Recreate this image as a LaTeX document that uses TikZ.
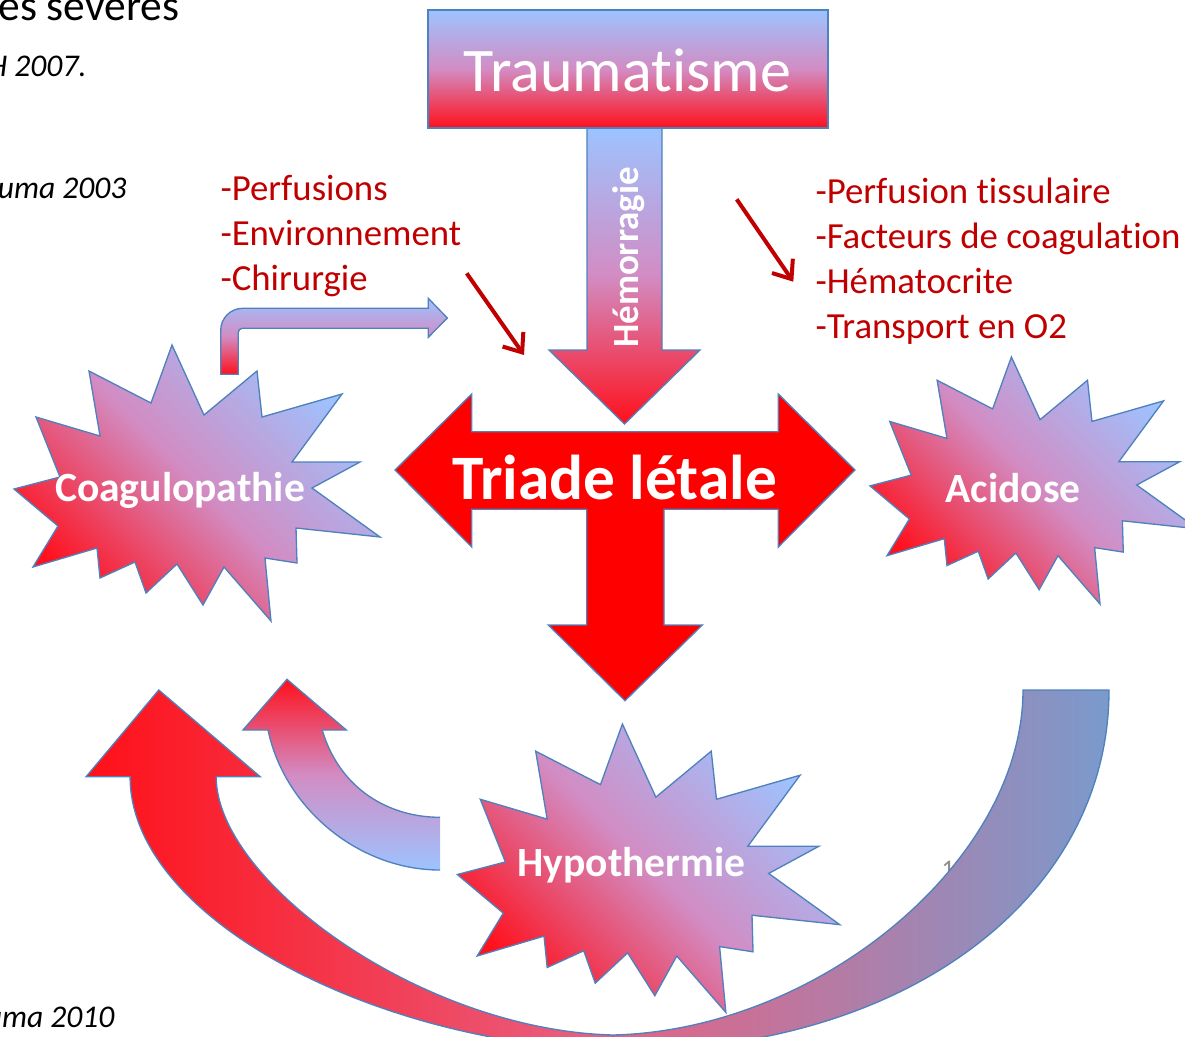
\documentclass[tikz,border=0pt]{standalone}
\usepackage{fontspec}
\setmainfont{Carlito}[Ligatures={NoCommon,NoRequired,NoContextual}]
\usetikzlibrary{arrows.meta}

\definecolor{shRed}{RGB}{255,16,28}
\definecolor{shMid}{RGB}{210,140,195}
\definecolor{shBlue}{RGB}{157,195,255}
\definecolor{edgeBlue}{RGB}{79,129,189}
\definecolor{listRed}{RGB}{192,0,0}
\definecolor{triRed}{RGB}{255,0,0}
\definecolor{arcRed}{RGB}{255,16,24}
\definecolor{arcPink}{RGB}{232,96,130}
\definecolor{arcBlue}{RGB}{122,154,204}
\definecolor{pageGrey}{RGB}{140,140,140}

% explosion outline, local px units from its top left corner
\newcommand{\explosionpath}{(158,0) -- (190,70) -- (243,26) -- (248,72) -- (328,49) -- (278,117) -- (346,117) -- (298,143) -- (366,192) -- (282,183) -- (283,218) -- (251,213) -- (257,276) -- (210,222) -- (189,260) -- (163,219) -- (132,248) -- (121,217) -- (86,233) -- (83,203) -- (19,222) -- (44,181) -- (0,144) -- (46,132) -- (22,72) -- (86,91) -- (75,26) -- (137,58) -- cycle}

\tikzset{every picture/.style={line width=0.75pt}}
\tikzset{
	edge/.style={draw=edgeBlue, line width=1pt, line join=miter},
	vgrad/.style={top color=shBlue, bottom color=shRed, middle color=shMid},
	star fill/.style={edge, top color=shBlue, bottom color=shRed, middle color=shMid, shading angle=-45},
	decr arrow/.style={draw=listRed, line width=3pt, -{Straight Barb[length=12pt, width=19pt]}},
	list text/.style={text=listRed, font=\fontsize{27.6}{33}\selectfont, anchor=base west, inner sep=0pt},
	ref text/.style={font=\fontsize{23.7}{28}\selectfont\itshape, anchor=base east, inner sep=0pt},
	star label/.style={text=white, font=\fontsize{31.2}{37}\selectfont\bfseries, anchor=base, inner sep=0pt},
	big label/.style={text=white, font=\fontsize{46.5}{56}\selectfont, anchor=base, inner sep=0pt}}

\begin{document}
\begin{tikzpicture}[x=0.75pt,y=0.75pt,yscale=-1,xscale=1]
	\useasboundingbox (0,0) rectangle (1185,1036);
	\clip (0,0) rectangle (1185,1036);

	% Text Node
	\draw (-2,20.5) node (titre) [anchor=base west, inner sep=0pt, font=\fontsize{32.6}{38}\selectfont] {es sévères};
	% Text Node
	\draw (87,76) node (ref07) [ref text] {H 2007.};
	% Text Node
	\draw (127,198) node (ref03) [ref text] {uma 2003};
	% Text Node
	\draw (115,1027) node (ref10) [ref text] {uma 2010};
	% Text Node
	\draw (941,877) node (pnum) [anchor=base west, inner sep=0pt, text=pageGrey, font=\fontsize{19}{23}\selectfont] {1};

	%Shape: Curved Up Arrow [id:bigloop]
	\draw [edge, left color=arcRed, right color=arcBlue, middle color=arcPink] (158.8,690) -- (260.2,776.7) -- (216.2,776.7) .. controls (216,880) and (420,1030) .. (613,1035) -- (613,1050) .. controls (380,1045) and (130,920) .. (130.1,776.7) -- (86.1,776.7) -- cycle (1023,690) -- (1109,690) .. controls (1109,900) and (900,1055) .. (613,1050) -- (613,1035) .. controls (820,1030) and (1023,860) .. (1023,690) -- cycle ;

	%Shape: Curved Up Arrow [id:smallloop]
	\shade [top color=shRed, bottom color=shBlue, middle color=shMid] (287,679.3) -- (346.3,730) -- (322.2,730) .. controls (340,790) and (390,817.3) .. (440,817.3) -- (440,870) .. controls (360,870) and (285,810) .. (268,730) -- (243,730) -- cycle ;
	\draw [edge] (440,817.3) .. controls (390,817.3) and (340,790) .. (322.2,730) -- (346.3,730) -- (287,679.3) -- (243,730) -- (268,730) .. controls (285,810) and (360,870) .. (440,870) ;

	%Shape: Bent Arrow [id:bent]
	\draw [edge, vgrad] (220.7,374.3) -- (220.7,330.3) arc[start angle=180, end angle=270, radius=22] -- (428.3,308.3) -- (428.3,298.3) -- (447.3,318) -- (428.3,337.3) -- (428.3,328.3) -- (242.3,328.3) arc[start angle=270, end angle=180, radius=4] -- (238.3,374.3) -- cycle ;

	%Shape: Down Arrow [id:hemo]
	\draw [edge, vgrad] (587,128) -- (662,128) -- (662,350) -- (700,350) -- (624.5,424) -- (549,350) -- (587,350) -- cycle ;
	%Shape: Rectangle [id:trauma]
	\draw [edge, vgrad] (428,10) -- (828,10) -- (828,128) -- (428,128) -- cycle ;

	%Shape: Left-Right-Down Arrow [id:triade]
	\draw [edge, fill=triRed] (395,470) -- (471.7,394) -- (471.7,431.7) -- (778.3,431.7) -- (778.3,394) -- (855,470) -- (778.3,547) -- (778.3,509.3) -- (664,509.3) -- (664,625) -- (702.3,625) -- (625,700.7) -- (548.3,625) -- (586.7,625) -- (586.7,509.3) -- (471.7,509.3) -- (471.7,547) -- cycle ;

	%Shape: Explosion [id:coag]
	\draw [star fill, shift={(14,345)}] \explosionpath ;
	%Shape: Explosion [id:acid]
	\draw [star fill, shift={(870,357)}, scale=0.895] \explosionpath ;
	%Shape: Explosion [id:hypo]
	\draw [star fill, shift={(457.3,724)}, scale=1.045] \explosionpath ;

	%Straight Lines [id:left]
	\coordinate (leftFrom) at (466.7,273.3);
	\coordinate (leftTo) at (524,355);
	\draw [decr arrow] (leftFrom) -- (leftTo) ;
	%Straight Lines [id:right]
	\coordinate (rightFrom) at (736.7,199.3);
	\coordinate (rightTo) at (793.3,281.7);
	\draw [decr arrow] (rightFrom) -- (rightTo) ;

	% Text Node
	\draw (627.5,91) node (trauma) [big label] {Traumatisme};
	% Text Node
	\draw (638,257.5) node (hemo) [rotate=90, anchor=base, inner sep=0pt, text=white, font=\fontsize{27.7}{33}\selectfont\bfseries] {Hémorragie};
	% Text Node
	\draw (614.5,499) node (triade) [big label, font=\fontsize{47.5}{57}\selectfont\bfseries] {Triade létale};
	% Text Node
	\draw (180,501.7) node (coag) [star label] {Coagulopathie};
	% Text Node
	\draw (1013.3,502.7) node (acid) [star label] {Acidose};
	% Text Node
	\draw (631.5,876.7) node (hypo) [star label] {Hypothermie};

	% Text Node
	\draw (220,200) node (perf) [list text] {-Perfusions};
	% Text Node
	\draw (220,245) node (envir) [list text] {-Environnement};
	% Text Node
	\draw (220,290) node (chir) [list text] {-Chirurgie};
	% Text Node
	\draw (815,203) node (tissu) [list text] {-Perfusion tissulaire};
	% Text Node
	\draw (815,248) node (facteurs) [list text] {-Facteurs de coagulation};
	% Text Node
	\draw (815,293) node (hemato) [list text] {-Hématocrite};
	% Text Node
	\draw (815,338) node (transport) [list text] {-Transport en O2};

\end{tikzpicture}
\end{document}
